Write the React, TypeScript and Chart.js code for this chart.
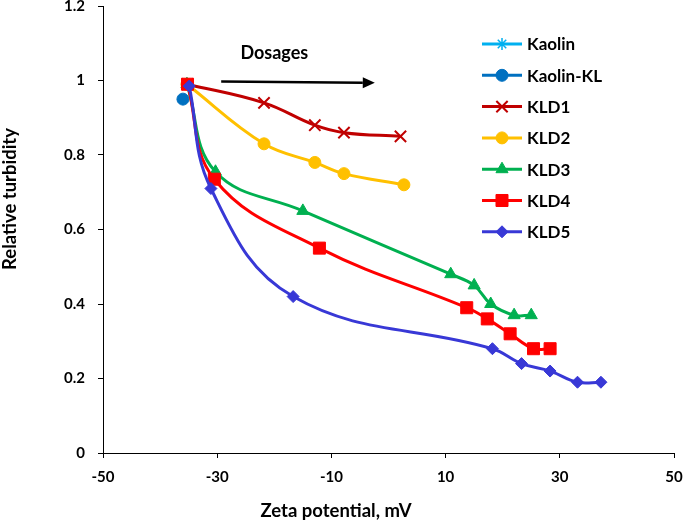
import React, { useEffect, useRef } from 'react';
import { Chart, registerables } from 'chart.js';
import { drawPoint } from 'chart.js/helpers';

Chart.register(...registerables);

// ---- data ----
const xTicks = [-50, -30, -10, 10, 30, 50];
const yTicks = [0, 0.2, 0.4, 0.6, 0.8, 1, 1.2];

const seriesNames = ['Kaolin', 'Kaolin-KL', 'KLD1', 'KLD2', 'KLD3', 'KLD4', 'KLD5'];

const kaolinX = [-35.3];
const kaolinY = [0.99];
const kaolinKLX = [-36.0];
const kaolinKLY = [0.95];
const kld1X = [-35.2, -21.8, -12.9, -7.8, 2.1];
const kld1Y = [0.99, 0.94, 0.88, 0.86, 0.85];
const kld2X = [-35.3, -21.8, -12.9, -7.8, 2.7];
const kld2Y = [0.99, 0.83, 0.78, 0.75, 0.72];
const kld3X = [-35.3, -30.3, -15.0, 10.9, 15.0, 17.9, 22.0, 25.0];
const kld3Y = [0.99, 0.755, 0.65, 0.48, 0.45, 0.40, 0.37, 0.37];
const kld4X = [-35.2, -30.5, -12.1, 13.7, 17.3, 21.3, 25.4, 28.3];
const kld4Y = [0.99, 0.735, 0.55, 0.39, 0.36, 0.32, 0.28, 0.28];
const kld5X = [-34.9, -31.1, -16.7, 18.2, 23.3, 28.3, 33.1, 37.2];
const kld5Y = [0.985, 0.71, 0.42, 0.28, 0.24, 0.22, 0.19, 0.19];

const arrowX = [-29.3, -2.4];
const arrowY = [0.997, 0.994];
const dosagesLabel = 'Dosages';
const dosagesX = -20.0;
const dosagesY = 1.058;

const xTitle = 'Zeta potential, mV';
const yTitle = 'Relative turbidity';

// ---- styles ----
const seriesX = [kaolinX, kaolinKLX, kld1X, kld2X, kld3X, kld4X, kld5X];
const seriesY = [kaolinY, kaolinKLY, kld1Y, kld2Y, kld3Y, kld4Y, kld5Y];
const colors = ['#00B0F0', '#0070C0', '#C00000', '#FFC000', '#00B050', '#FF0000', '#3838D6'];
const pointStyles = ['star', 'circle', 'crossRot', 'circle', 'triangle', 'rect', 'rectRot'];
const pointRadii = [6, 6, 8, 6, 7, 8.5, 6];
const pointBorders = [1.5, 1, 2, 1, 1, 1, 1];

const FONT = 'Lato, "Open Sans", sans-serif';

const zip = (xs: number[], ys: number[]) => xs.map((x, i) => ({ x, y: ys[i] }));

const datasets = seriesNames.map((name, i) => ({
  label: name,
  data: zip(seriesX[i], seriesY[i]),
  showLine: true,
  borderColor: colors[i],
  backgroundColor: colors[i],
  borderWidth: 3,
  tension: 0.4,
  pointStyle: pointStyles[i],
  pointRadius: pointRadii[i],
  pointHoverRadius: pointRadii[i],
  pointBackgroundColor: colors[i],
  pointBorderColor: colors[i],
  pointBorderWidth: pointBorders[i],
  order: seriesNames.length - 1 - i,
}));

const zeroPadding = (scale: any) => {
  scale.paddingTop = 0;
  scale.paddingBottom = 0;
  scale.paddingLeft = 0;
  scale.paddingRight = 0;
};

const decorPlugin = {
  id: 'decor',
  afterDraw(chart: any) {
    const { ctx, chartArea, scales } = chart;
    const xs = scales.x;
    const ys = scales.y;
    ctx.save();

    // arrow
    const x0 = xs.getPixelForValue(arrowX[0]);
    const y0 = ys.getPixelForValue(arrowY[0]);
    const x1 = xs.getPixelForValue(arrowX[1]);
    const y1 = ys.getPixelForValue(arrowY[1]);
    const ang = Math.atan2(y1 - y0, x1 - x0);
    const headL = 12;
    const headW = 5.5;
    ctx.strokeStyle = '#000';
    ctx.fillStyle = '#000';
    ctx.lineWidth = 2.5;
    ctx.beginPath();
    ctx.moveTo(x0, y0);
    ctx.lineTo(x1 - headL * Math.cos(ang), y1 - headL * Math.sin(ang));
    ctx.stroke();
    ctx.beginPath();
    ctx.moveTo(x1, y1);
    ctx.lineTo(x1 - headL * Math.cos(ang) + headW * Math.sin(ang), y1 - headL * Math.sin(ang) - headW * Math.cos(ang));
    ctx.lineTo(x1 - headL * Math.cos(ang) - headW * Math.sin(ang), y1 - headL * Math.sin(ang) + headW * Math.cos(ang));
    ctx.closePath();
    ctx.fill();

    // Dosages label
    ctx.font = `bold 18px ${FONT}`;
    ctx.textAlign = 'center';
    ctx.textBaseline = 'alphabetic';
    ctx.fillText(dosagesLabel, xs.getPixelForValue(dosagesX), ys.getPixelForValue(dosagesY));

    // axis titles
    ctx.font = `bold 18.5px ${FONT}`;
    ctx.textAlign = 'center';
    ctx.textBaseline = 'alphabetic';
    ctx.fillText(xTitle, chartArea.left + 233, chartArea.bottom + 64);
    ctx.save();
    ctx.translate(15.5, chartArea.top + 193);
    ctx.rotate(-Math.PI / 2);
    ctx.fillText(yTitle, 0, 0);
    ctx.restore();

    // legend
    const lx0 = chartArea.right - 192;
    const lx1 = chartArea.right - 152;
    chart.data.datasets.forEach((ds: any, i: number) => {
      const y = chartArea.top + 38 + i * 31.3;
      ctx.strokeStyle = ds.borderColor;
      ctx.lineWidth = 3;
      ctx.beginPath();
      ctx.moveTo(lx0, y);
      ctx.lineTo(lx1, y);
      ctx.stroke();
      ctx.fillStyle = ds.pointBackgroundColor;
      ctx.strokeStyle = ds.pointBorderColor;
      ctx.lineWidth = ds.pointBorderWidth;
      drawPoint(ctx, { pointStyle: ds.pointStyle, radius: ds.pointRadius, borderWidth: ds.pointBorderWidth, rotation: 0 }, (lx0 + lx1) / 2, y);
      ctx.fillStyle = '#000';
      ctx.font = `bold 17px ${FONT}`;
      ctx.textAlign = 'left';
      ctx.textBaseline = 'middle';
      ctx.fillText(ds.label, lx1 + 5, y + 1);
    });
    ctx.restore();
  },
};

export default function App() {
  const ref = useRef<HTMLCanvasElement>(null);
  useEffect(() => {
    if (!ref.current) return;
    const chart = new Chart(ref.current, {
      type: 'scatter',
      data: { datasets: datasets as any },
      options: {
        responsive: false,
        animation: false,
        devicePixelRatio: 1,
        layout: { autoPadding: false, padding: { top: 6, right: 11, left: 0, bottom: 0 } },
        plugins: {
          legend: { display: false },
          tooltip: { enabled: false },
        },
        scales: {
          x: {
            type: 'linear',
            min: -50,
            max: 50,
            afterBuildTicks: (axis: any) => {
              axis.ticks = xTicks.map((v) => ({ value: v }));
            },
            afterFit: (scale: any) => {
              scale.height = 69;
              zeroPadding(scale);
            },
            grid: { drawOnChartArea: false, drawTicks: true, tickLength: 5, color: '#000' },
            border: { display: true, color: '#000', width: 1 },
            ticks: {
              color: '#000',
              padding: 10,
              maxRotation: 0,
              font: { family: FONT, weight: 'bold', size: 15 },
              callback: (v: any) => String(v),
            },
          },
          y: {
            type: 'linear',
            min: 0,
            max: 1.2,
            afterBuildTicks: (axis: any) => {
              axis.ticks = yTicks.map((v) => ({ value: v }));
            },
            afterFit: (scale: any) => {
              scale.width = 103;
              zeroPadding(scale);
            },
            grid: { drawOnChartArea: false, drawTicks: true, tickLength: 5, color: '#000' },
            border: { display: true, color: '#000', width: 1 },
            ticks: {
              color: '#000',
              padding: 13,
              font: { family: FONT, weight: 'bold', size: 15 },
              callback: (v: any) => String(v),
            },
          },
        },
      },
      plugins: [decorPlugin],
    });
    return () => chart.destroy();
  }, []);
  return (
    <div style={{ position: 'fixed', left: 0, top: 0, width: 685, height: 522, background: '#fff' }}>
      <canvas ref={ref} width={685} height={522} style={{ display: 'block', width: 685, height: 522 }} />
    </div>
  );
}
